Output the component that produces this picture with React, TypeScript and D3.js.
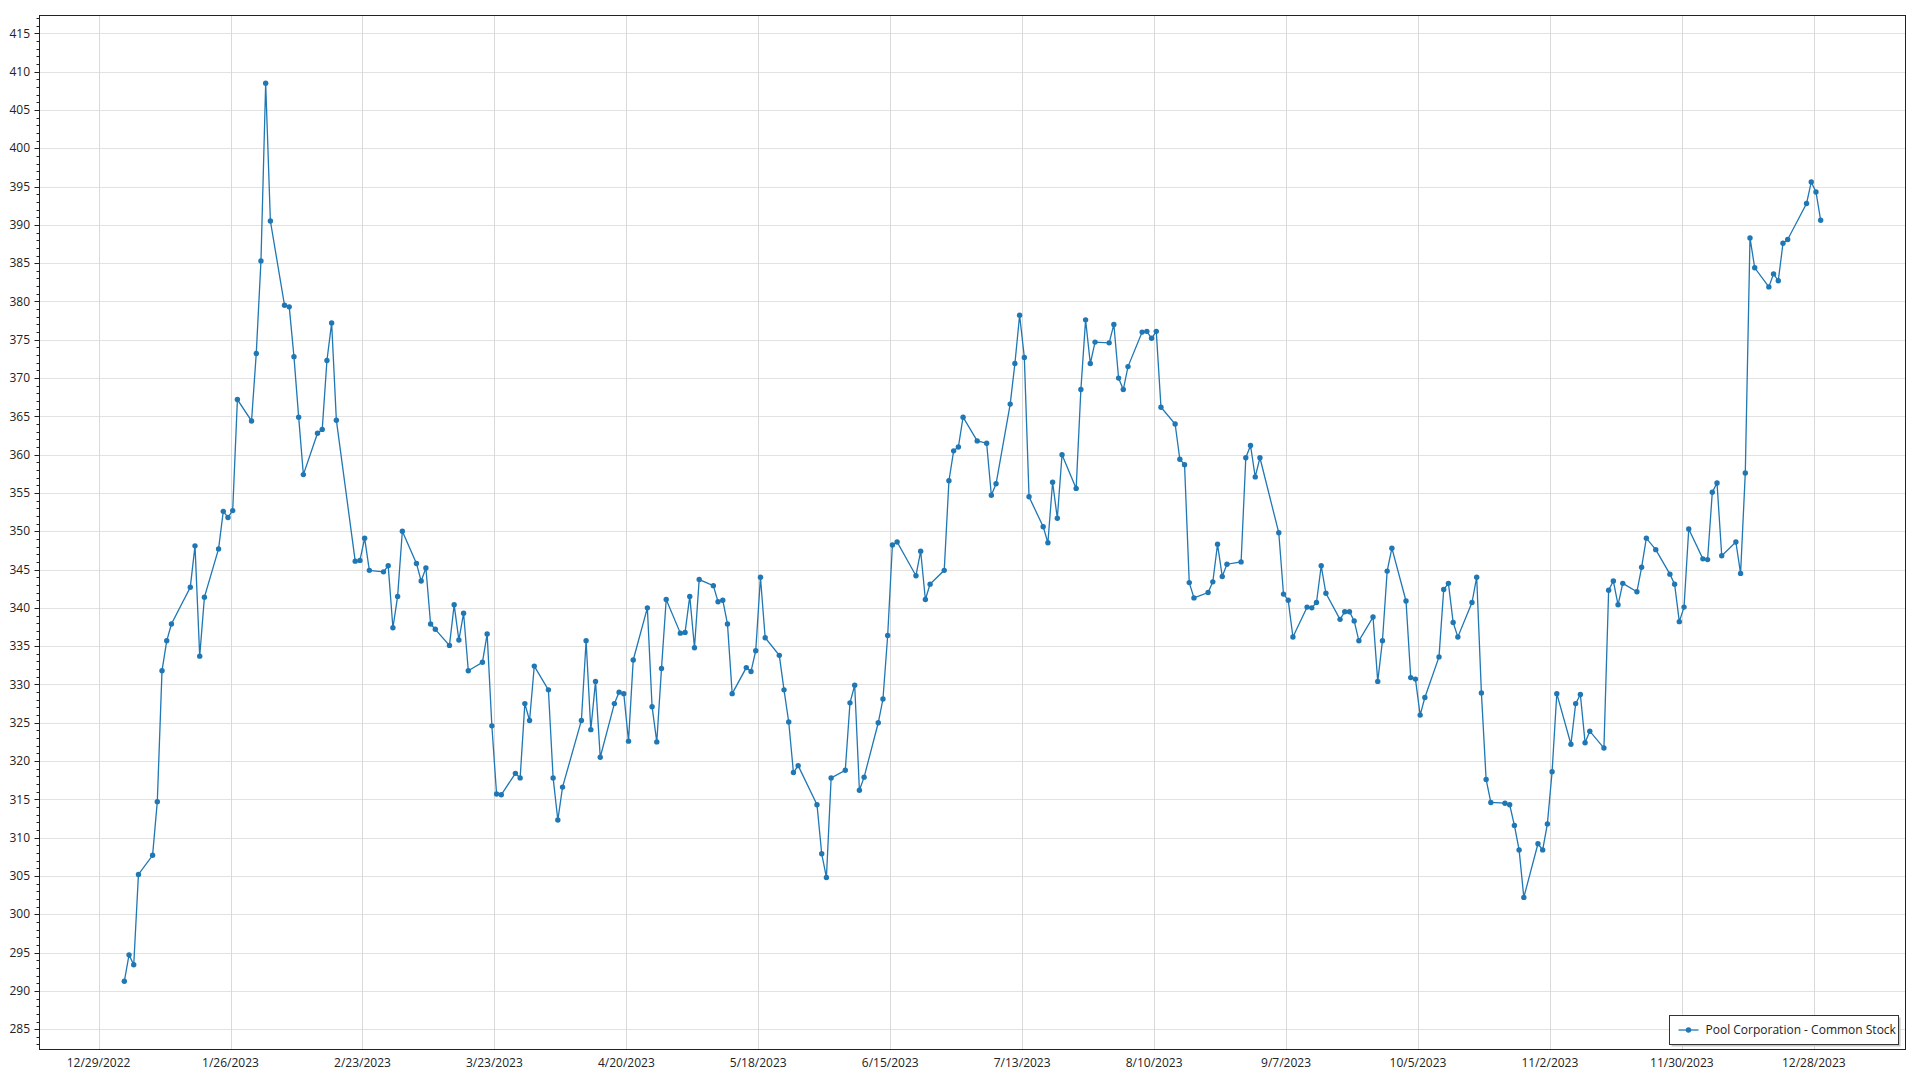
import * as d3 from "d3"

// closing prices, [day of month, close]
const jan: [number, number][] = [[3, 291.25], [4, 294.7], [5, 293.4], [6, 305.2], [9, 307.7], [10, 314.7], [11, 331.8], [12, 335.7], [13, 337.9], [17, 342.7], [18, 348.1], [19, 333.7], [20, 341.4], [23, 347.7], [24, 352.6], [25, 351.8], [26, 352.7], [27, 367.2], [30, 364.4], [31, 373.2]]
const feb: [number, number][] = [[1, 385.3], [2, 408.5], [3, 390.5], [6, 379.5], [7, 379.3], [8, 372.8], [9, 364.9], [10, 357.4], [13, 362.8], [14, 363.3], [15, 372.3], [16, 377.2], [17, 364.5], [21, 346.1], [22, 346.2], [23, 349.1], [24, 344.9], [27, 344.7], [28, 345.5]]
const mar: [number, number][] = [[1, 337.4], [2, 341.5], [3, 350.0], [6, 345.8], [7, 343.5], [8, 345.2], [9, 337.9], [10, 337.2], [13, 335.1], [14, 340.4], [15, 335.8], [16, 339.3], [17, 331.8], [20, 332.9], [21, 336.6], [22, 324.6], [23, 315.7], [24, 315.6], [27, 318.4], [28, 317.8], [29, 327.5], [30, 325.3], [31, 332.4]]
const apr: [number, number][] = [[3, 329.3], [4, 317.8], [5, 312.3], [6, 316.6], [10, 325.3], [11, 335.7], [12, 324.1], [13, 330.4], [14, 320.5], [17, 327.5], [18, 329.0], [19, 328.8], [20, 322.6], [21, 333.2], [24, 340.0], [25, 327.1], [26, 322.5], [27, 332.1], [28, 341.1]]
const may: [number, number][] = [[1, 336.7], [2, 336.8], [3, 341.5], [4, 334.8], [5, 343.7], [8, 342.9], [9, 340.8], [10, 341.0], [11, 337.9], [12, 328.8], [15, 332.2], [16, 331.7], [17, 334.4], [18, 344.0], [19, 336.1], [22, 333.8], [23, 329.3], [24, 325.1], [25, 318.5], [26, 319.4], [30, 314.3], [31, 307.9]]
const jun: [number, number][] = [[1, 304.8], [2, 317.8], [5, 318.8], [6, 327.6], [7, 329.9], [8, 316.2], [9, 317.9], [12, 325.0], [13, 328.1], [14, 336.4], [15, 348.2], [16, 348.6], [20, 344.2], [21, 347.4], [22, 341.1], [23, 343.1], [26, 344.9], [27, 356.6], [28, 360.5], [29, 361.0], [30, 364.9]]
const jul: [number, number][] = [[3, 361.8], [5, 361.5], [6, 354.7], [7, 356.2], [10, 366.6], [11, 371.9], [12, 378.2], [13, 372.7], [14, 354.5], [17, 350.6], [18, 348.5], [19, 356.4], [20, 351.7], [21, 360.0], [24, 355.6], [25, 368.5], [26, 377.6], [27, 371.9], [28, 374.7], [31, 374.6]]
const aug: [number, number][] = [[1, 377.0], [2, 370.0], [3, 368.5], [4, 371.5], [7, 376.0], [8, 376.1], [9, 375.2], [10, 376.1], [11, 366.2], [14, 364.0], [15, 359.4], [16, 358.7], [17, 343.3], [18, 341.3], [21, 342.0], [22, 343.4], [23, 348.3], [24, 344.1], [25, 345.7], [28, 346.0], [29, 359.6], [30, 361.2], [31, 357.1]]
const sep: [number, number][] = [[1, 359.6], [5, 349.8], [6, 341.8], [7, 341.0], [8, 336.2], [11, 340.1], [12, 340.0], [13, 340.7], [14, 345.5], [15, 341.9], [18, 338.5], [19, 339.5], [20, 339.5], [21, 338.3], [22, 335.7], [25, 338.8], [26, 330.4], [27, 335.7], [28, 344.8], [29, 347.8]]
const oct: [number, number][] = [[2, 340.9], [3, 330.9], [4, 330.7], [5, 326.0], [6, 328.3], [9, 333.6], [10, 342.4], [11, 343.2], [12, 338.1], [13, 336.2], [16, 340.7], [17, 344.0], [18, 328.9], [19, 317.6], [20, 314.6], [23, 314.5], [24, 314.3], [25, 311.6], [26, 308.4], [27, 302.2], [30, 309.2], [31, 308.4]]
const nov: [number, number][] = [[1, 311.8], [2, 318.6], [3, 328.8], [6, 322.2], [7, 327.5], [8, 328.7], [9, 322.4], [10, 323.9], [13, 321.7], [14, 342.3], [15, 343.5], [16, 340.4], [17, 343.2], [20, 342.1], [21, 345.3], [22, 349.1], [24, 347.6], [27, 344.4], [28, 343.1], [29, 338.2], [30, 340.1]]
const dec: [number, number][] = [[1, 350.3], [4, 346.4], [5, 346.3], [6, 355.1], [7, 356.3], [8, 346.8], [11, 348.6], [12, 344.5], [13, 357.6], [14, 388.3], [15, 384.4], [18, 381.9], [19, 383.6], [20, 382.7], [21, 387.6], [22, 388.1], [26, 392.8], [27, 395.6], [28, 394.3], [29, 390.6]]

const xTickLabels = ["12/29/2022", "1/26/2023", "2/23/2023", "3/23/2023", "4/20/2023", "5/18/2023", "6/15/2023", "7/13/2023", "8/10/2023", "9/7/2023", "10/5/2023", "11/2/2023", "11/30/2023", "12/28/2023"]
const seriesName = "Pool Corporation - Common Stock"

const W = 1920
const H = 1080
const left = 39.5
const right = 1905.5
const top = 15
const bottom = 1050
const blue = "#1f77b4"
const font = "'Segoe UI', 'Open Sans', 'Noto Sans', sans-serif"

const data = [jan, feb, mar, apr, may, jun, jul, aug, sep, oct, nov, dec].flatMap((m, i) =>
  m.map(([d, v]) => ({ date: new Date(2023, i, d, 11), value: v }))
)
const parse = d3.timeParse("%m/%d/%Y")

export default function App() {
  const first = data[0].date
  const last = data[data.length - 1].date
  const x = d3
    .scaleTime()
    .domain([d3.timeDay.offset(first, -18), d3.timeDay.offset(last, 18)])
    .range([left, right])
  const y = d3.scaleLinear().domain([282.28, 417.4]).range([bottom, top])

  const line = d3
    .line<{ date: Date; value: number }>()
    .x((d) => x(d.date))
    .y((d) => y(d.value))

  const yMajor = d3.range(285, 416, 5)
  const yMinor = d3.range(283, 418, 1).filter((v) => v % 5 !== 0)
  const xTicks = xTickLabels.map((s) => ({ label: s, date: parse(s) as Date }))
  const py = (v: number) => Math.round(y(v)) + 0.5

  const lx = 1669.5
  const ly = 1015.5

  return (
    <svg width={W} height={H} style={{ position: "absolute", left: 0, top: 0, background: "#fff" }}>
      <g>
        {yMajor.map((v) => (
          <line key={"gy" + v} x1={left} x2={right} y1={py(v)} y2={py(v)} stroke="#e2e2e2" />
        ))}
        {xTicks.map((t) => (
          <line key={"gx" + t.label} x1={Math.round(x(t.date)) + 0.5} x2={Math.round(x(t.date)) + 0.5} y1={top} y2={bottom} stroke="#dadada" />
        ))}
      </g>

      <path d={line(data) ?? ""} fill="none" stroke={blue} strokeWidth={1.3} />
      {data.map((d, i) => (
        <circle key={i} cx={x(d.date)} cy={y(d.value)} r={2.7} fill={blue} />
      ))}

      <rect x={left} y={top + 0.5} width={right - left} height={bottom - top - 1} fill="none" stroke="#222" />

      {yMajor.map((v) => (
        <g key={"ty" + v}>
          <line x1={left - 5} x2={left} y1={py(v)} y2={py(v)} stroke="#222" />
          <text x={30} y={y(v)} dy="0.35em" textAnchor="end" fontSize={12} fontFamily={font} fill="#222">
            {v}
          </text>
        </g>
      ))}
      {yMinor.map((v) => (
        <line key={"my" + v} x1={left - 3} x2={left} y1={py(v)} y2={py(v)} stroke="#222" />
      ))}
      {xTicks.map((t) => (
        <text key={"tx" + t.label} x={x(t.date)} y={1067} textAnchor="middle" fontSize={12} fontFamily={font} fill="#222">
          {t.label}
        </text>
      ))}

      <g>
        <rect x={lx + 2} y={ly + 2} width={229} height={29} fill="#c8c8c8" />
        <rect x={lx} y={ly} width={229} height={29} fill="#fff" stroke="#333" />
        <line x1={lx + 9} x2={lx + 29} y1={ly + 14.5} y2={ly + 14.5} stroke={blue} strokeWidth={1.3} />
        <circle cx={lx + 19} cy={ly + 14.5} r={2.7} fill={blue} />
        <text x={lx + 36} y={ly + 14.5} dy="0.35em" fontSize={12} fontFamily={font} fill="#222">
          {seriesName}
        </text>
      </g>
    </svg>
  )
}
